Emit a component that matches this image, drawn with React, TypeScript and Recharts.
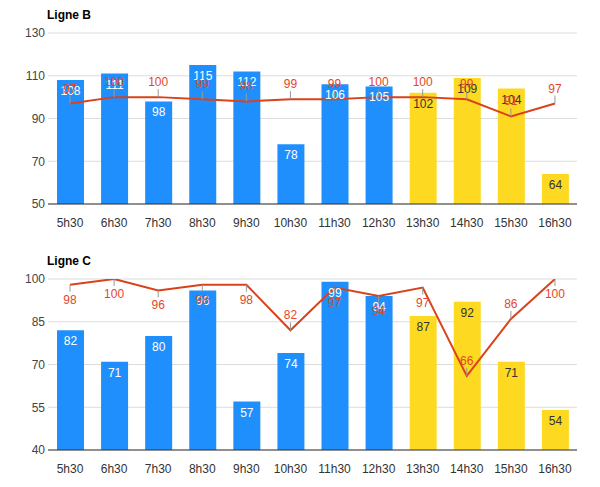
import { ComposedChart, Bar, Line, XAxis, YAxis, CartesianGrid, LabelList, Cell } from 'recharts';

const hours = ['5h30', '6h30', '7h30', '8h30', '9h30', '10h30', '11h30', '12h30', '13h30', '14h30', '15h30', '16h30'];

const barsB = [108, 111, 98, 115, 112, 78, 106, 105, 102, 109, 104, 64];
const lineB = [97, 100, 100, 99, 98, 99, 99, 100, 100, 99, 91, 97];
const ticksB = [50, 70, 90, 110, 130];

const barsC = [82, 71, 80, 96, 57, 74, 99, 94, 87, 92, 71, 54];
const lineC = [98, 100, 96, 98, 98, 82, 97, 94, 97, 66, 86, 100];
const ticksC = [40, 55, 70, 85, 100];

// hours from this one on are drawn in yellow
const firstYellow = '13h30';

const BLUE = '#1e8ffd';
const YELLOW = '#fdd922';
const RED = '#d9421a';
const FONT = '"Liberation Sans", Arial, sans-serif';

function makeRows(bars: number[], line: number[]) {
  return hours.map((h, i) => ({ hour: h, bar: bars[i], line: line[i] }));
}

function LineLabel(props: any, below: (v: number) => boolean) {
  const { x, y, value } = props;
  if (x == null || y == null) return null;
  const down = below(value);
  const stemEnd = down ? y + 7 : y - 8;
  const textY = down ? y + 19 : y - 11;
  return (
    <g>
      <line x1={x} y1={y} x2={x} y2={stemEnd} stroke="#999" strokeWidth={1} />
      <text x={x} y={textY} textAnchor="middle" fill="#e5462b" fontSize={12} fontFamily={FONT}>
        {value}
      </text>
    </g>
  );
}

function BarLabel(props: any) {
  const { x, y, width, value, index } = props;
  const yellow = hours.indexOf(firstYellow) <= index;
  return (
    <text x={x + width / 2} y={y + 15} textAnchor="middle" fill={yellow ? '#333' : '#fff'} fontSize={12} fontFamily={FONT}>
      {value}
    </text>
  );
}

function Panel({ title, top, bars, line, ticks, below }: {
  title: string; top: number; bars: number[]; line: number[]; ticks: number[]; below: (v: number) => boolean;
}) {
  const rows = makeRows(bars, line);
  const split = hours.indexOf(firstYellow);
  return (
    <div style={{ position: 'absolute', left: 0, top, width: 600, height: 240 }}>
      <div style={{ position: 'absolute', left: 47, top: 8, fontFamily: FONT, fontWeight: 'bold', fontSize: 12, color: '#000' }}>
        {title}
      </div>
      <ComposedChart width={600} height={240} data={rows} margin={{ top: 33, right: 23, left: 0, bottom: 0 }}>
        <CartesianGrid vertical={false} stroke="#dcdcdc" />
        <XAxis
          dataKey="hour"
          height={36}
          tickLine={false}
          axisLine={{ stroke: '#333' }}
          tickMargin={8}
          tick={{ fill: '#333', fontSize: 12, fontFamily: FONT }}
          interval={0}
        />
        <YAxis
          width={48}
          domain={[ticks[0], ticks[ticks.length - 1]]}
          ticks={ticks}
          allowDataOverflow
          tickLine={false}
          axisLine={false}
          tickSize={3}
          tickMargin={0}
          tick={{ fill: '#444', fontSize: 12, fontFamily: FONT }}
        />
        <Bar dataKey="bar" barSize={27} isAnimationActive={false}>
          {rows.map((r, i) => (
            <Cell key={r.hour} fill={i >= split ? YELLOW : BLUE} />
          ))}
          <LabelList dataKey="bar" content={BarLabel} />
        </Bar>
        <Line type="linear" dataKey="line" stroke={RED} strokeWidth={2} dot={false} isAnimationActive={false}>
          <LabelList dataKey="line" content={(p: any) => LineLabel(p, below)} />
        </Line>
      </ComposedChart>
    </div>
  );
}

export default function App() {
  return (
    <div style={{ position: 'absolute', left: 0, top: 0, width: 600, height: 487, background: '#fff' }}>
      <Panel title="Ligne B" top={0} bars={barsB} line={lineB} ticks={ticksB} below={() => false} />
      <Panel title="Ligne C" top={246} bars={barsC} line={lineC} ticks={ticksC} below={(v) => v >= 90} />
    </div>
  );
}
